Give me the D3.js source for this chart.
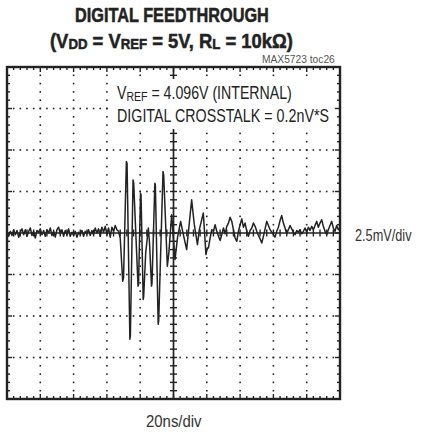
<!DOCTYPE html>
<html>
<head>
<meta charset="utf-8">
<script src="https://cdn.jsdelivr.net/npm/d3@7"></script>
<style>
	body { margin: 0; background: #fff; }
	text { font-family: "Liberation Sans Narrow", "Arial Narrow", "Liberation Sans", Arial, sans-serif; fill: #222; }
</style>
</head>
<body>
<div id="chart"></div>
<script>
'use strict';

// Scope settings: 20ns/div horizontally, 2.5mV/div vertically
var timeDomain = [0, 200];
var voltDomain = [-10, 10];
var timeTicks = d3.range(0, 201, 20);
var voltTicks = [-10, -7.5, -5, -2.5, 0, 2.5, 5, 7.5, 10];

// Baseline noise before the digital edge, one sample per ns (mV)
var preNoise = [
	0.05, -0.2, 0.1, -0.15, 0.2, -0.1, 0.15, -0.25, 0.05, 0.25,
	-0.1, 0.2, -0.2, 0.1, 0.3, -0.15, 0.1, -0.3, 0.15, 0.05,
	0.25, -0.1, 0.15, -0.2, 0.2, 0, 0.3, -0.15, 0.1, -0.25,
	0.2, 0.35, -0.05, 0.2, -0.2, 0.15, -0.1, 0.25, -0.2, 0.05,
	-0.15, 0.1, -0.25, 0.05, -0.1, 0.15, -0.2, 0.1, -0.05, 0.2,
	-0.15, 0.15, -0.1, 0.3, 0, 0.25, -0.2, 0.35, 0.05, 0.4,
	-0.1, 0.3, -0.25, 0.35, 0.1, 0.45, 0.2, 0.1, -0.3
];

// The feedthrough burst, [ns, mV] at each turning point
var burst = [
	[69.5, -2.9], [70.0, -2.7], [71.7, 4.3], [72.1, 4.2], [73.8, -6.4], [74.1, -6.2],
	[75.7, 3.2], [76.1, 3.0], [78.7, -3.2], [79.0, -3.1], [80.2, 2.4], [80.5, 2.3],
	[81.8, -4.0], [82.1, -3.8], [83.3, -1.2], [84.9, 0.3], [85.6, -0.6],
	[86.8, -3.2], [87.1, -3.0], [88.8, 3.0], [89.1, 2.9], [90.8, -5.5], [91.1, -5.3],
	[93.7, 3.7], [94.1, 3.5], [96.3, -2.0],
	[97.2, -1.2], [98.9, 1.1], [100.9, -1.6], [102.5, -0.2], [104.3, 0.7],
	[105.5, 0.1], [107.9, -1.0], [110.9, 2.0], [112.5, 0.5], [114.4, -0.7],
	[115.5, 0.2], [117.9, 1.2], [119.5, -1.3], [120.3, -0.9]
];

// Ringing tail from 121ns to 200ns, one sample per ns (mV)
var ringing = [
	-0.9, -0.3, 0.2, 0.1, 0.5, 0.1, -0.2, -0.45, -0.1, 0.3,
	-0.05, 0.4, 0.6, 0.95, 0.7, 0.2, -0.3, -0.5, 0.1, 0.5,
	0.85, 0.35, 0.6, 0.1, -0.2, 0.15, 0.3, 0.6, 0.4, 0.1,
	-0.15, -0.35, -0.6, -0.2, 0.25, 0.7, 0.45, 0.2, 0.05, -0.1,
	-0.25, 0.1, 0.35, 0.75, 1.05, 0.6, 0.3, -0.05, 0.2, 0.45,
	0.25, 0.05, -0.1, 0.15, 0.05, 0.2, -0.05, 0.1, 0.3, 0.05,
	0.35, 0.15, 0.4, 0.2, 0.45, 0.7, 0.35, 0.6, 0.8, 0.4,
	0.1, -0.1, 0.2, 0.45, 0.7, 0.3, 0.1, 0.45, 0.2, 0.35
];

var trace = preNoise.map(function(v, i) { return [i, v]; })
	.concat(burst)
	.concat(ringing.map(function(v, i) { return [121 + i, v]; }));

var svgWidth = 422, svgHeight = 433;
var plot = {left: 7, right: 340, top: 67, bottom: 399};

var svg = d3.select('#chart').append('svg')
	.attr('width', svgWidth)
	.attr('height', svgHeight);

var x = d3.scaleLinear().domain(timeDomain).range([plot.left, plot.right]);
var y = d3.scaleLinear().domain(voltDomain).range([plot.bottom, plot.top]);

var minorT = d3.range(timeDomain[0], timeDomain[1] + 0.01, 4);
var minorV = d3.range(voltDomain[0], voltDomain[1] + 0.01, 0.5);
var ink = '#222';

// Dotted grid
var grid = svg.append('g').attr('class', 'grid');
voltTicks.slice(1, -1).forEach(function(v) {
	if (v === 0) return;
	minorT.forEach(function(t) {
		grid.append('rect')
			.attr('x', x(t) - 0.8).attr('y', y(v) - 0.8)
			.attr('width', 1.6).attr('height', 1.6).attr('fill', ink);
	});
});
timeTicks.slice(1, -1).forEach(function(t) {
	if (t === 100) return;
	minorV.forEach(function(v) {
		grid.append('rect')
			.attr('x', x(t) - 0.8).attr('y', y(v) - 0.8)
			.attr('width', 1.6).attr('height', 1.6).attr('fill', ink);
	});
});

// Centre axes with cross ticks
var centre = svg.append('g').attr('class', 'centre');
centre.append('line')
	.attr('x1', x(timeDomain[0])).attr('x2', x(timeDomain[1]))
	.attr('y1', y(0)).attr('y2', y(0))
	.attr('stroke', ink).attr('stroke-width', 1.7);
centre.append('line')
	.attr('x1', x(100)).attr('x2', x(100))
	.attr('y1', y(voltDomain[0])).attr('y2', y(voltDomain[1]))
	.attr('stroke', ink).attr('stroke-width', 1.7);
minorV.forEach(function(v) {
	centre.append('line')
		.attr('x1', x(100) - 3.5).attr('x2', x(100) + 3.5)
		.attr('y1', y(v)).attr('y2', y(v))
		.attr('stroke', ink).attr('stroke-width', 1.4);
});
minorT.forEach(function(t) {
	centre.append('line')
		.attr('x1', x(t)).attr('x2', x(t))
		.attr('y1', y(0) - 3.5).attr('y2', y(0) + 3.5)
		.attr('stroke', ink).attr('stroke-width', 1.4);
});

// Frame ticks pointing inward
var frame = svg.append('g').attr('class', 'frame');
minorT.forEach(function(t, i) {
	var len = (i % 5 === 0) ? 5 : 3;
	frame.append('line')
		.attr('x1', x(t)).attr('x2', x(t))
		.attr('y1', plot.top).attr('y2', plot.top + len)
		.attr('stroke', ink).attr('stroke-width', 1.4);
	frame.append('line')
		.attr('x1', x(t)).attr('x2', x(t))
		.attr('y1', plot.bottom).attr('y2', plot.bottom - len)
		.attr('stroke', ink).attr('stroke-width', 1.4);
});
minorV.forEach(function(v, i) {
	var len = (i % 5 === 0) ? 5 : 3;
	frame.append('line')
		.attr('x1', plot.left).attr('x2', plot.left + len)
		.attr('y1', y(v)).attr('y2', y(v))
		.attr('stroke', ink).attr('stroke-width', 1.4);
	frame.append('line')
		.attr('x1', plot.right).attr('x2', plot.right - len)
		.attr('y1', y(v)).attr('y2', y(v))
		.attr('stroke', ink).attr('stroke-width', 1.4);
});

// Trace
var line = d3.line()
	.x(function(d) { return x(d[0]); })
	.y(function(d) { return y(d[1]); });
svg.append('path')
	.datum(trace)
	.attr('d', line)
	.attr('fill', 'none')
	.attr('stroke', ink)
	.attr('stroke-width', 1.5)
	.attr('stroke-linejoin', 'round');

// Border
frame.append('rect')
	.attr('x', plot.left).attr('y', plot.top)
	.attr('width', plot.right - plot.left)
	.attr('height', plot.bottom - plot.top)
	.attr('fill', 'none')
	.attr('stroke', ink)
	.attr('stroke-width', 2.4);

// Squeeze a text horizontally so it spans the given width (narrow font look)
function fit(sel, left, baseline, width) {
	var w = sel.node().getBBox().width;
	sel.attr('transform', `translate(${left}, ${baseline}) scale(${width / w}, 1)`);
	return sel;
}

// Annotation box
svg.append('rect')
	.attr('x', 111).attr('y', 79).attr('width', 223).attr('height', 50)
	.attr('fill', '#fff');

var ann1 = svg.append('text').attr('font-size', 17.5);
ann1.append('tspan').text('V');
ann1.append('tspan').attr('font-size', 13).attr('dy', 2).text('REF');
ann1.append('tspan').attr('dy', -2).text(' = 4.096V (INTERNAL)');
fit(ann1, 117, 98.5, 175);

fit(svg.append('text').attr('font-size', 17.5).text('DIGITAL CROSSTALK = 0.2nV*S'),
	117, 122, 212);

// Titles
fit(svg.append('text')
	.attr('font-size', 19.5).attr('font-weight', 'bold')
	.attr('stroke', ink).attr('stroke-width', 0.5)
	.text('DIGITAL FEEDTHROUGH'), 75, 21.5, 194);

var t2 = svg.append('text')
	.attr('font-size', 19.5).attr('font-weight', 'bold')
	.attr('stroke', ink).attr('stroke-width', 0.5);
t2.append('tspan').text('(V');
t2.append('tspan').attr('font-size', 14).attr('dy', 1).text('DD');
t2.append('tspan').attr('dy', -1).text(' = V');
t2.append('tspan').attr('font-size', 14).attr('dy', 1).text('REF');
t2.append('tspan').attr('dy', -1).text(' = 5V, R');
t2.append('tspan').attr('font-size', 14).attr('dy', 1).text('L');
t2.append('tspan').attr('dy', -1).text(' = 10k\u03A9)');
fit(t2, 50, 47.5, 243);

fit(svg.append('text').attr('font-size', 10.5).style('fill', '#555')
	.text('MAX5723 toc26'), 262, 63, 73);

fit(svg.append('text').attr('font-size', 17).style('fill', '#333')
	.text('2.5mV/div'), 355, 240.5, 57);

fit(svg.append('text').attr('font-size', 17).style('fill', '#333')
	.text('20ns/div'), 146, 426.5, 56);
</script>
</body>
</html>
